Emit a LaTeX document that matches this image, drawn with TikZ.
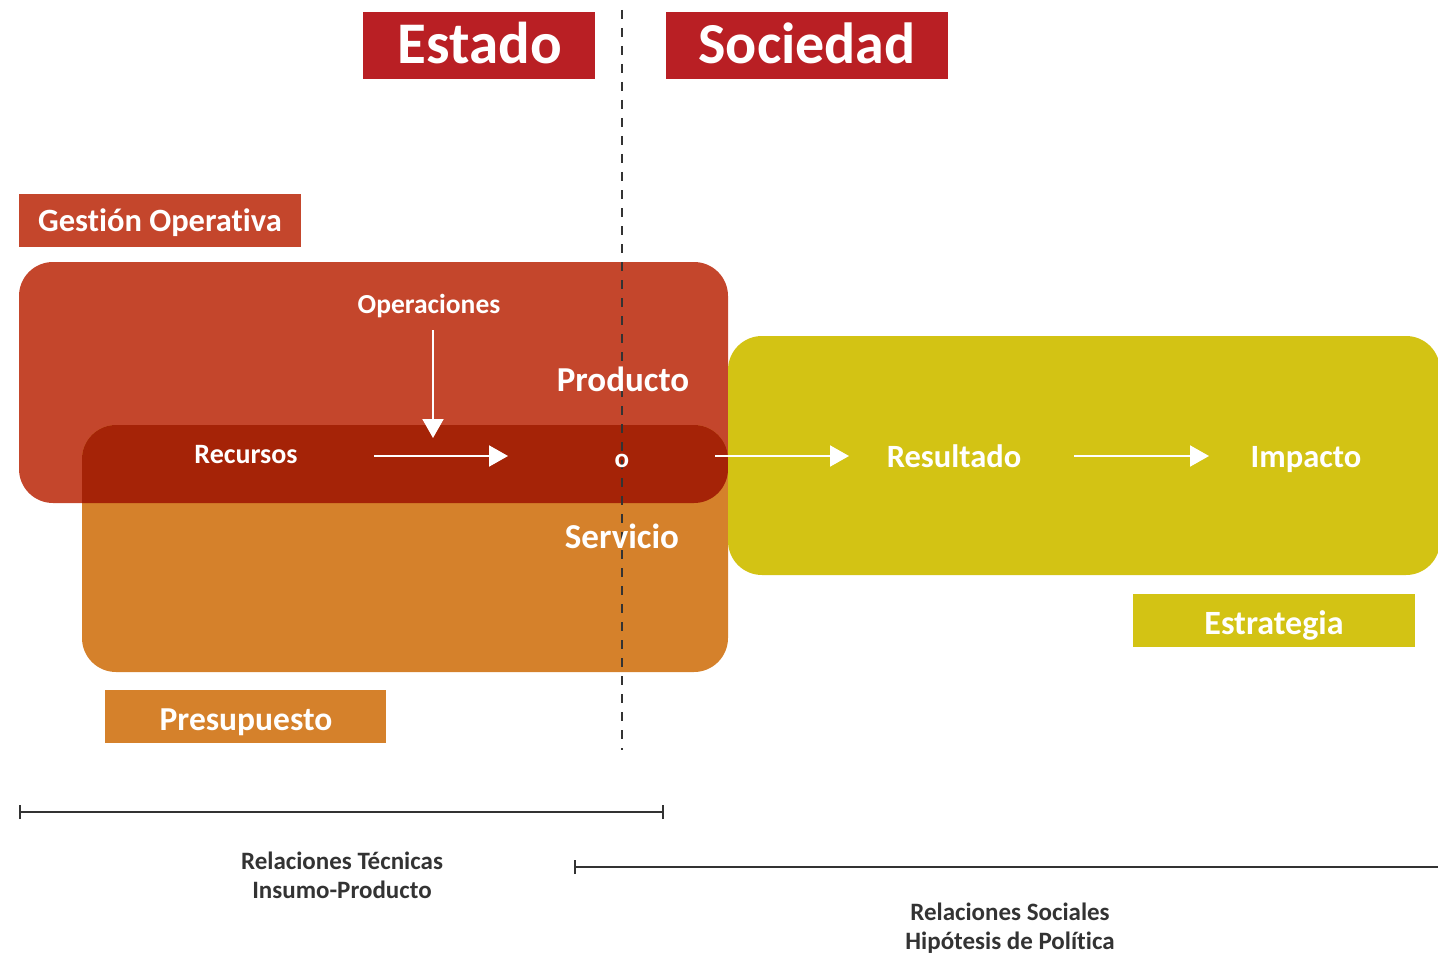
\documentclass[tikz,border=0pt]{standalone}
\usepackage{fontspec}
\setmainfont{Carlito}[Ligatures=NoCommon]
\usetikzlibrary{arrows.meta}
\definecolor{estadoRed}{HTML}{B91F24}
\definecolor{gestRed}{HTML}{C4462C}
\definecolor{darkRed}{HTML}{A52307}
\definecolor{presOrange}{HTML}{D5812B}
\definecolor{estYellow}{HTML}{D3C314}
\definecolor{txtGray}{HTML}{333333}
\tikzset{
  fs/.style={font=\fontsize{#1}{#1}\selectfont\bfseries},
  wtxt/.style={text=white, inner sep=0pt, anchor=base},
  warrow/.style={white, line width=2pt, -{Triangle[length=19pt,width=21pt]}},
  bracket/.style={txtGray, line width=2pt},
  gtxt/.style={text=txtGray, inner sep=0pt, align=center, font=\fontsize{25}{29}\selectfont\bfseries},
}
\begin{document}
\begin{tikzpicture}[x=1pt,y=-1pt]
\useasboundingbox (0,0) rectangle (1438,955);
% title boxes
\fill[estadoRed] (363,12) rectangle (595,79);
\node[wtxt, fs=59] (estado) at (480,64) {Estado};
\fill[estadoRed] (666,12) rectangle (948,79);
\node[wtxt, fs=58] (sociedad) at (807,64) {Sociedad};
% label boxes
\fill[gestRed] (19,194) rectangle (301,247);
\node[wtxt, fs=32.5] (gestion) at (160,231) {Gestión Operativa};
% big rounded areas
\fill[gestRed, rounded corners=34pt] (19,262) rectangle (728,503);
\fill[presOrange, rounded corners=34pt] (82,425) rectangle (728,672);
\begin{scope}
  \clip[rounded corners=34pt] (19,262) rectangle (728,503);
  \fill[darkRed, rounded corners=34pt] (82,425) rectangle (728,672);
\end{scope}
\fill[estYellow, rounded corners=34pt] (728,336) rectangle (1440,575);
\fill[estYellow] (1133,594) rectangle (1415,647);
\node[wtxt, fs=34] (estrategia) at (1274,634) {Estrategia};
\fill[presOrange] (105,690) rectangle (386,743);
\node[wtxt, fs=33.5] (presupuesto) at (246,730) {Presupuesto};
% dashed divider
\coordinate (dtop) at (622,10);
\coordinate (dbot) at (622,750);
\draw[black!80, line width=1.5pt, dash pattern=on 9pt off 9pt] (dtop) -- (dbot);
% texts
\node[wtxt, fs=27.5] (oper) at (429,313) {Operaciones};
\node[wtxt, fs=35] (producto) at (623,391) {Producto};
\node[wtxt, fs=28] (recursos) at (246,463) {Recursos};
\node[wtxt, fs=27] (o) at (622,467) {o};
\node[wtxt, fs=35] (servicio) at (622,548) {Servicio};
\node[wtxt, fs=32.5] (resultado) at (954,467) {Resultado};
\node[wtxt, fs=32.5] (impacto) at (1306,467) {Impacto};
% arrows
\coordinate (a1s) at (433,330); \coordinate (a1e) at (433,438);
\coordinate (a2s) at (374,456); \coordinate (a2e) at (508,456);
\coordinate (a3s) at (715,456); \coordinate (a3e) at (849,456);
\coordinate (a4s) at (1074,456); \coordinate (a4e) at (1209,456);
\draw[warrow] (a1s) -- (a1e);
\draw[warrow] (a2s) -- (a2e);
\draw[warrow] (a3s) -- (a3e);
\draw[warrow] (a4s) -- (a4e);
% brackets
\coordinate (b1l) at (20,812); \coordinate (b1r) at (663,812);
\draw[bracket] (b1l) -- (b1r);
\draw[bracket] ([yshift=-7pt]b1l) -- ([yshift=7pt]b1l);
\draw[bracket] ([yshift=-7pt]b1r) -- ([yshift=7pt]b1r);
\node[gtxt] (tec) at (342,875) {Relaciones Técnicas\\Insumo-Producto};
\coordinate (b2l) at (575,867); \coordinate (b2r) at (1438,867);
\draw[bracket] (b2l) -- (b2r);
\draw[bracket] ([yshift=-7pt]b2l) -- ([yshift=7pt]b2l);
\node[gtxt] (soc) at (1010,928) {Relaciones Sociales\\Hipótesis de Política};
\end{tikzpicture}
\end{document}
